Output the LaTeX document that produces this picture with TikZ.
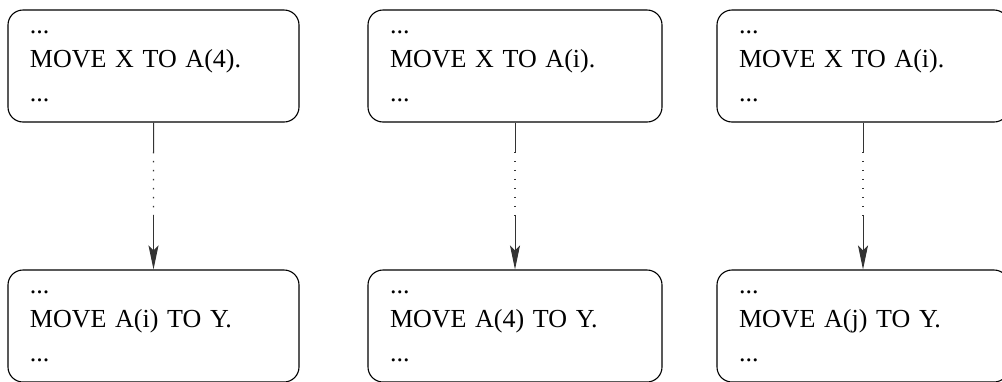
\documentclass[tikz,border=0pt]{standalone}
\usepackage{fontspec}
\setmainfont{Liberation Serif}
\usetikzlibrary{arrows.meta,calc}
\begin{document}
\begin{tikzpicture}[x=1pt,y=-1pt,
  box/.style={draw=black,line width=1.1pt,rounded corners=15pt,
    minimum height=112pt,inner xsep=22pt,inner ysep=0pt,align=left,
    font=\fontsize{26}{34}\selectfont},
  boxL/.style={box,text width=247pt},
  boxM/.style={box,text width=250pt},
  boxR/.style={box,text width=248pt},
  link/.style={draw=black!80,line width=1pt},
  dotlink/.style={link,line width=1.4pt,dash pattern=on 1.4pt off 7.6pt},
  arr/.style={link,-{Stealth[length=24pt,width=10pt,inset=5pt]}}]
\useasboundingbox (0,0) rectangle (1002,381);
\node[boxL] (t1) at (153.5,66) {...\\MOVE X TO A(4).\\...};
\node[boxM] (t2) at (515,66) {...\\MOVE X TO A(i).\\...};
\node[boxR] (t3) at (863,66) {...\\MOVE X TO A(i).\\...};
\node[boxL] (b1) at (153.5,326) {...\\MOVE A(i) TO Y.\\...};
\node[boxM] (b2) at (515,326) {...\\MOVE A(4) TO Y.\\...};
\node[boxR] (b3) at (863,326) {...\\MOVE A(j) TO Y.\\...};
\foreach \i in {1,2,3}{
  \path[link] (t\i.south) -- ($(t\i.south)!0.2!(b\i.north)$) coordinate (p\i);
  \path[dotlink] (p\i) -- ($(t\i.south)!0.63!(b\i.north)$) coordinate (q\i);
  \path[arr] (q\i) -- (b\i.north);
}
\end{tikzpicture}
\end{document}
